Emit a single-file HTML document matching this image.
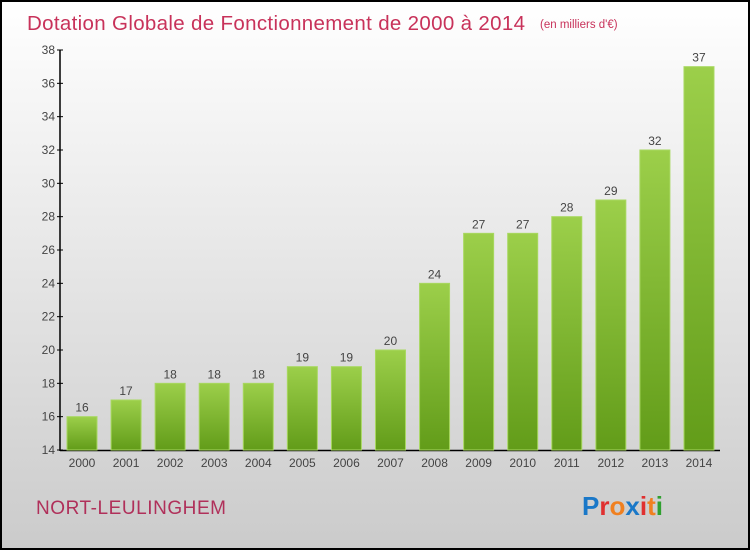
<!DOCTYPE html>
<html><head><meta charset="utf-8"><style>
body{margin:0;width:750px;height:550px;overflow:hidden}
svg{display:block}
text{font-family:"Liberation Sans",sans-serif}
</style></head><body>
<svg width="750" height="550">
<defs>
<linearGradient id="bg" x1="0" y1="0" x2="0" y2="1"><stop offset="0" stop-color="#ffffff"/><stop offset="1" stop-color="#cbcbcb"/></linearGradient>
<linearGradient id="bar" x1="0" y1="0" x2="0" y2="1"><stop offset="0" stop-color="#9ccf4a"/><stop offset="1" stop-color="#629c19"/></linearGradient>
</defs>
<rect x="1" y="1" width="748" height="548" fill="url(#bg)" stroke="#000" stroke-width="2"/>
<text x="27" y="30" font-size="20.5" fill="#c8325a" textLength="498">Dotation Globale de Fonctionnement de 2000 à 2014</text>
<text x="540" y="28" font-size="11.5" fill="#c8325a">(en milliers d'€)</text>
<g id="plot"></g>
<text x="36" y="514" font-size="19" fill="#b0305a" textLength="190">NORT-LEULINGHEM</text>
<text x="582" y="515" font-size="26" font-weight="bold"><tspan fill="#1a78c8">P</tspan><tspan fill="#e03030">r</tspan><tspan fill="#f08020">o</tspan><tspan fill="#1a78c8">x</tspan><tspan fill="#e03030">i</tspan><tspan fill="#f08020">t</tspan><tspan fill="#30a030">i</tspan></text>
</svg>
<script>
const years=["2000","2001","2002","2003","2004","2005","2006","2007","2008","2009","2010","2011","2012","2013","2014"];
const values=[16,17,18,18,18,19,19,20,24,27,27,28,29,32,37];
const yTicks=[14,16,18,20,22,24,26,28,30,32,34,36,38];
const NS="http://www.w3.org/2000/svg";
const g=document.getElementById('plot');
const y=v=>450-(v-14)*400/24;
const x=i=>67+i*44.07;
function mk(t,a){const e=document.createElementNS(NS,t);for(const k in a)e.setAttribute(k,a[k]);g.appendChild(e);return e;}
let ax=mk('line',{x1:60,y1:50,x2:60,y2:451,stroke:'#000','stroke-width':1.5});


let bx=mk('line',{x1:60,y1:450.5,x2:720,y2:450.5,stroke:'#000','stroke-width':1.5});


yTicks.forEach(v=>{
 const t=mk('line',{x1:57,y1:y(v),x2:63,y2:y(v),stroke:'#000'});
 
 
 const l=mk('text',{x:55,y:y(v)+4,'font-size':12,fill:'#444','text-anchor':'end'});
 l.textContent=v;
 
 
});
values.forEach((v,i)=>{
 const r=mk('rect',{x:x(i),y:y(v),width:30,height:450-y(v),fill:'url(#bar)',stroke:'#a8d860','stroke-width':1});
 
 
 const vl=mk('text',{x:x(i)+15,y:y(v)-5,'font-size':12,fill:'#444','text-anchor':'middle'});
 vl.textContent=v;
 
 
 const xl=mk('text',{x:x(i)+15,y:467,'font-size':12,fill:'#444','text-anchor':'middle'});
 xl.textContent=years[i];
 
 
});
</script>
</body></html>
